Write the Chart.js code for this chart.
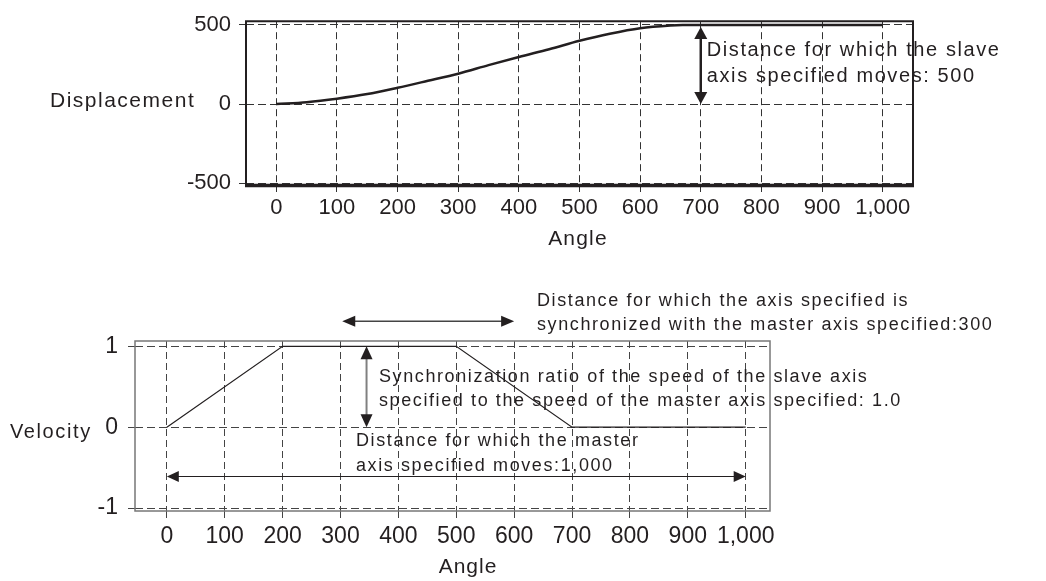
<!DOCTYPE html>
<html>
<head>
<meta charset="utf-8">
<script src="https://cdn.jsdelivr.net/npm/chart.js@4/dist/chart.umd.min.js"></script>
<style>
  html, body { margin: 0; padding: 0; background: #fff; }
  #wrap { position: relative; width: 1046px; height: 581px; }
  .box { position: absolute; left: 0; width: 1046px; }
  #top { top: 0; height: 265px; }
  #bottom { top: 265px; height: 316px; }
</style>
</head>
<body>
<div id="wrap">
  <div class="box" id="top"><canvas id="dispChart"></canvas></div>
  <div class="box" id="bottom"><canvas id="velChart"></canvas></div>
</div>
<script>
// displacement curve
const dispAngles   = [0, 50, 100, 150, 200, 250, 300, 350, 400, 450, 500, 550, 600, 650, 670, 700, 800, 900, 1000];
const displacement = [0, 12, 34, 63, 103, 147, 192, 246, 298, 347, 400, 445, 480, 497, 500, 500, 500, 500, 500];

// velocity profile
const velAngles = [0, 200, 500, 700, 1000];
const velocity  = [0, 1, 1, 0, 0];

// tick labels
const angleTicks = [0, 100, 200, 300, 400, 500, 600, 700, 800, 900, 1000];
const dispTicks  = [-500, 0, 500];
const velTicks   = [-1, 0, 1];

const ink = '#231f20';
const FONT = '"Liberation Sans", Arial, sans-serif';

function toPoints(xs, ys) {
  return xs.map((x, i) => ({ x: x, y: ys[i] }));
}

function label(ctx, txt, x, y, size, spacing, align) {
  ctx.save();
  ctx.font = size + 'px ' + FONT;
  ctx.letterSpacing = spacing + 'px';
  ctx.fillStyle = ink;
  ctx.textAlign = align || 'left';
  ctx.textBaseline = 'alphabetic';
  ctx.fillText(txt, x, y);
  ctx.restore();
}

function arrowHead(ctx, x, y, a, len, half) {
  const bx = x - len * Math.cos(a), by = y - len * Math.sin(a);
  ctx.beginPath();
  ctx.moveTo(x, y);
  ctx.lineTo(bx + half * Math.sin(a), by - half * Math.cos(a));
  ctx.lineTo(bx - half * Math.sin(a), by + half * Math.cos(a));
  ctx.closePath();
  ctx.fill();
}

function doubleArrow(ctx, x1, y1, x2, y2, lineColor, lineW, len, half) {
  const a = Math.atan2(y2 - y1, x2 - x1);
  ctx.save();
  ctx.strokeStyle = lineColor;
  ctx.lineWidth = lineW;
  ctx.beginPath();
  ctx.moveTo(x1 + Math.cos(a) * len * 0.5, y1 + Math.sin(a) * len * 0.5);
  ctx.lineTo(x2 - Math.cos(a) * len * 0.5, y2 - Math.sin(a) * len * 0.5);
  ctx.stroke();
  ctx.fillStyle = ink;
  arrowHead(ctx, x2, y2, a, len, half);
  arrowHead(ctx, x1, y1, a + Math.PI, len, half);
  ctx.restore();
}

function axes(opts) {
  return {
    x: {
      type: 'linear',
      min: opts.xMin, max: opts.xMax,
      afterBuildTicks: s => { s.ticks = angleTicks.map(v => ({ value: v })); },
      afterFit: s => { s.height = opts.xHeight; },
      ticks: {
        color: ink, padding: opts.xPad,
        maxRotation: 0, minRotation: 0, autoSkip: false,
        font: { family: FONT, size: opts.tickSize },
        callback: v => v.toLocaleString('en-US')
      },
      grid: { color: opts.gridColor, lineWidth: 1, tickLength: 7, tickColor: opts.gridColor },
      border: { display: false, dash: [7, 4] }
    },
    y: {
      type: 'linear',
      min: opts.yMin, max: opts.yMax,
      afterBuildTicks: s => { s.ticks = opts.yTicks.map(v => ({ value: v })); },
      afterFit: s => { s.width = opts.yWidth; },
      ticks: {
        color: ink, padding: opts.yPad,
        font: { family: FONT, size: opts.tickSize }
      },
      grid: { color: opts.gridColor, lineWidth: 1, tickLength: 7, tickColor: opts.gridColor },
      border: { display: false, dash: [8, 4] }
    }
  };
}

// top chart: displacement
const dispExtras = {
  id: 'dispExtras',
  afterDraw(chart) {
    const ctx = chart.ctx, a = chart.chartArea;
    const xs = chart.scales.x, ys = chart.scales.y;
    ctx.save();
    ctx.strokeStyle = ink;
    ctx.lineWidth = 2;
    ctx.beginPath();
    ctx.moveTo(a.left, a.bottom); ctx.lineTo(a.left, a.top);
    ctx.lineTo(a.right, a.top); ctx.lineTo(a.right, a.bottom);
    ctx.stroke();
    ctx.lineWidth = 3.5;
    ctx.beginPath();
    ctx.moveTo(a.left - 1, a.bottom + 0.5); ctx.lineTo(a.right + 1, a.bottom + 0.5);
    ctx.stroke();
    ctx.restore();

    label(ctx, 'Displacement', 50, 107, 21, 1.5);
    label(ctx, 'Angle', 578, 245, 21, 1.2, 'center');

    const ax = xs.getPixelForValue(700);
    doubleArrow(ctx, ax, ys.getPixelForValue(500) + 2, ax, ys.getPixelForValue(0), ink, 2.5, 12, 6.5);
    label(ctx, 'Distance for which the slave', ax + 6, 56, 20, 1.6);
    label(ctx, 'axis specified moves: 500', ax + 6, 81.5, 20, 1.6);
  }
};

new Chart(document.getElementById('dispChart'), {
  type: 'line',
  data: {
    datasets: [{
      data: toPoints(dispAngles, displacement),
      borderColor: ink, borderWidth: 2.5,
      pointRadius: 0, cubicInterpolationMode: 'monotone'
    }]
  },
  options: {
    responsive: true, maintainAspectRatio: false, animation: false,
    layout: { padding: { top: 13, right: 133, left: 0, bottom: 0 } },
    plugins: { legend: { display: false }, tooltip: { enabled: false } },
    scales: axes({
      xMin: -50, xMax: 1050, yMin: -512, yMax: 524, yTicks: dispTicks,
      xHeight: 80, yWidth: 246, xPad: 3, yPad: 8, tickSize: 22, gridColor: '#333'
    })
  },
  plugins: [dispExtras]
});

// bottom chart: velocity
const velExtras = {
  id: 'velExtras',
  afterDraw(chart) {
    const ctx = chart.ctx, a = chart.chartArea;
    const xs = chart.scales.x, ys = chart.scales.y;
    ctx.save();
    ctx.strokeStyle = '#777';
    ctx.lineWidth = 1.5;
    ctx.strokeRect(a.left, a.top, a.right - a.left, a.bottom - a.top);
    ctx.restore();

    label(ctx, 'Velocity', 10, 172.5, 20, 1.6);
    label(ctx, 'Angle', 468, 308, 21, 1, 'center');

    // synchronized span above the plot
    const yTop = ys.getPixelForValue(1.31);
    doubleArrow(ctx, xs.getPixelForValue(303), yTop, xs.getPixelForValue(600), yTop, '#444', 1.5, 13, 5.5);
    label(ctx, 'Distance for which the axis specified is', 537, 40.5, 18, 1.6);
    label(ctx, 'synchronized with the master axis specified:300', 537, 65, 18, 1.6);

    // ratio arrow
    const rx = xs.getPixelForValue(345);
    doubleArrow(ctx, rx, ys.getPixelForValue(1), rx, ys.getPixelForValue(0), '#808080', 2, 13, 6);
    label(ctx, 'Synchronization ratio of the speed of the slave axis', 379, 117, 18, 1.6);
    label(ctx, 'specified to the speed of the master axis specified: 1.0', 379, 141, 18, 1.6);

    // master travel
    const yM = ys.getPixelForValue(-0.61);
    label(ctx, 'Distance for which the master', 356, 181, 18, 1.6);
    label(ctx, 'axis specified moves:1,000', 356, 206, 18, 1.6);
    doubleArrow(ctx, xs.getPixelForValue(0), yM, xs.getPixelForValue(1000), yM, ink, 1.2, 12, 5.5);
  }
};

new Chart(document.getElementById('velChart'), {
  type: 'line',
  data: {
    datasets: [{
      data: toPoints(velAngles, velocity),
      borderColor: ink, borderWidth: 1.2,
      pointRadius: 0, tension: 0
    }]
  },
  options: {
    responsive: true, maintainAspectRatio: false, animation: false,
    layout: { padding: { top: 76, right: 276, left: 0, bottom: 0 } },
    plugins: { legend: { display: false }, tooltip: { enabled: false } },
    scales: axes({
      xMin: -55, xMax: 1042, yMin: -1.037, yMax: 1.066, yTicks: velTicks,
      xHeight: 70, yWidth: 135, xPad: 5, yPad: 10, tickSize: 23, gridColor: '#444'
    })
  },
  plugins: [velExtras]
});
</script>
</body>
</html>
